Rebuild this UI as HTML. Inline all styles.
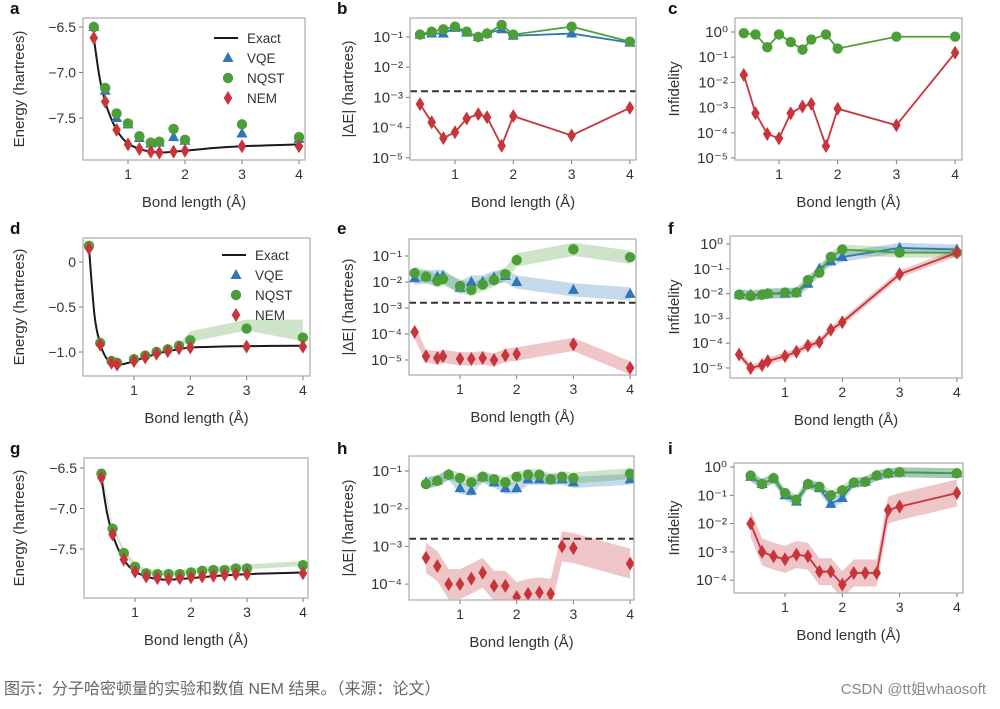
<!DOCTYPE html>
<html><head><meta charset="utf-8">
<style>
body{margin:0;background:#fff;width:1000px;height:704px;overflow:hidden;font-family:"Liberation Sans",sans-serif}
svg text{font-family:"Liberation Sans","Noto Sans CJK SC",sans-serif}
</style></head><body>
<svg id="fig" width="1000" height="704" viewBox="0 0 1000 704" xmlns="http://www.w3.org/2000/svg"></svg>
<script>
// ---------- data ----------
const xA=[0.4,0.6,0.8,1.0,1.2,1.4,1.55,1.8,2.0,3,4];
const aVQE=[-6.5,-7.2,-7.5,-7.57,-7.72,-7.78,-7.77,-7.71,-7.75,-7.67,-7.73];
const aNQST=[-6.5,-7.17,-7.45,-7.56,-7.7,-7.77,-7.76,-7.62,-7.74,-7.57,-7.71];
const aNEM=[-6.62,-7.32,-7.63,-7.79,-7.84,-7.87,-7.88,-7.87,-7.86,-7.81,-7.81];
const exactXA=[0.4,0.5,0.6,0.7,0.8,0.9,1.0,1.2,1.4,1.6,1.8,2.0,2.5,3,3.5,4];
const exactA=[-6.62,-7.05,-7.32,-7.5,-7.63,-7.72,-7.78,-7.84,-7.87,-7.88,-7.87,-7.86,-7.83,-7.81,-7.8,-7.79];
const bVQE=[0.12,0.13,0.13,0.2,0.14,0.1,0.13,0.18,0.11,0.13,0.065];
const bNQST=[0.12,0.15,0.18,0.22,0.15,0.1,0.13,0.25,0.12,0.22,0.07];
const bNEM=[6e-4,1.5e-4,4.5e-5,7e-5,2e-4,2.8e-4,2.2e-4,2.5e-5,2.4e-4,5.5e-5,4.5e-4];
const cNQST=[0.9,0.8,0.25,0.8,0.4,0.2,0.5,0.8,0.22,0.65,0.65];
const cNEM=[0.02,6e-4,9e-5,6e-5,6e-4,1.1e-3,1.4e-3,3e-5,9e-4,2e-4,0.15];
const xD=[0.2,0.4,0.6,0.7,1.0,1.2,1.4,1.6,1.8,2.0,3,4];
const dNQST=[0.18,-0.9,-1.1,-1.12,-1.08,-1.04,-1.0,-0.97,-0.93,-0.87,-0.74,-0.84];
const dNQSTBand=[0,0,0,0,0,0,0,0,0.02,0.1,0.1,0.2];
const dNEM=[0.15,-0.92,-1.12,-1.14,-1.1,-1.06,-1.02,-0.99,-0.96,-0.95,-0.94,-0.94];
const exactXD=[0.2,0.3,0.4,0.5,0.6,0.74,0.9,1.0,1.2,1.4,1.6,1.8,2.0,2.5,3,4];
const exactD=[0.16,-0.6,-0.91,-1.06,-1.12,-1.14,-1.12,-1.1,-1.06,-1.02,-0.99,-0.97,-0.95,-0.94,-0.935,-0.93];
const eVQE=[0.014,0.016,0.016,0.017,0.006,0.01,0.01,0.015,0.017,0.01,0.005,0.0035];
const eNQST=[0.022,0.016,0.011,0.013,0.007,0.005,0.008,0.012,0.02,0.07,0.18,0.09];
const eNEM=[1.2e-4,1.4e-5,1.2e-5,1.4e-5,1.1e-5,1.1e-5,1.2e-5,1e-5,1.5e-5,1.7e-5,4e-5,5e-6];
const fVQE=[0.009,0.009,0.009,0.01,0.01,0.011,0.025,0.1,0.2,0.3,0.7,0.6];
const fNQST=[0.009,0.008,0.009,0.01,0.011,0.011,0.035,0.07,0.3,0.6,0.45,0.45];
const fNEM=[3.5e-5,1e-5,1.3e-5,1.9e-5,3e-5,4.5e-5,8e-5,1.1e-4,3.5e-4,7e-4,0.06,0.45];
const xG=[0.4,0.6,0.8,1.0,1.2,1.4,1.6,1.8,2.0,2.2,2.4,2.6,2.8,3.0,4];
const gNQST=[-6.57,-7.25,-7.55,-7.72,-7.8,-7.81,-7.81,-7.81,-7.79,-7.77,-7.76,-7.76,-7.74,-7.74,-7.7];
const gNEM=[-6.62,-7.32,-7.63,-7.78,-7.84,-7.86,-7.87,-7.86,-7.85,-7.84,-7.83,-7.82,-7.81,-7.81,-7.8];
const hVQE=[0.05,0.055,0.08,0.035,0.03,0.07,0.05,0.035,0.035,0.06,0.06,0.06,0.06,0.05,0.06];
const hNQST=[0.045,0.055,0.08,0.065,0.05,0.07,0.06,0.05,0.07,0.08,0.08,0.06,0.07,0.065,0.085];
const hNEM=[5e-4,3e-4,1e-4,1e-4,1.4e-4,2e-4,9e-5,9e-5,4.5e-5,5.5e-5,6e-5,5.5e-5,1e-3,9e-4,3.5e-4];
const iVQE=[0.45,0.25,0.4,0.1,0.06,0.25,0.18,0.05,0.08,0.28,0.3,0.5,0.6,0.65,0.6];
const iNQST=[0.5,0.25,0.4,0.12,0.07,0.25,0.2,0.1,0.15,0.28,0.3,0.5,0.6,0.65,0.6];
const iNEM=[0.01,1e-3,7e-4,5.5e-4,8e-4,7e-4,2e-4,2e-4,7e-5,1.8e-4,1.8e-4,1.8e-4,0.03,0.04,0.12];
const chemAcc=1.6e-3;
const xTicks=[1,2,3,4];
const energyTicksA=[-6.5,-7.0,-7.5];
const energyTicksD=[0,-0.5,-1.0];
const logTicksB=[-1,-2,-3,-4,-5];
const logTicksC=[0,-1,-2,-3,-4,-5];
const logTicksH=[-1,-2,-3,-4];
const logTicksI=[0,-1,-2,-3,-4];

// ---------- drawing ----------
const NS='http://www.w3.org/2000/svg';
const svg=document.getElementById('fig');
const C={VQE:'#2e76b6',NQST:'#4c9f38',NEM:'#c7343a',EXACT:'#1a1a1a'};
function mk(tag,attrs,parent){const e=document.createElementNS(NS,tag);for(const k in attrs)e.setAttribute(k,attrs[k]);(parent||svg).appendChild(e);return e;}
function txt(s,x,y,o,parent){const t=mk('text',Object.assign({x:x,y:y,'font-size':14,fill:'#333'},o||{}),parent);t.textContent=s;return t;}
function fmt(v){return v===0?'0':(v<0?'\u2212'+Math.abs(v).toFixed(1):v.toFixed(1));}
const sup={'0':'\u2070','1':'\u00b9','2':'\u00b2','3':'\u00b3','4':'\u2074','5':'\u2075','-':'\u207b'};

function panel(P){
  const g=mk('g',{});
  
  
  const X=v=>P.x1+(v-1)*P.xs;
  const Y=P.log?(v=>P.y0+(P.top-Math.log10(v))*P.ys):(v=>P.y0+(P.top-v)*P.ys);
  const lt=txt(P.id,P.lx,P.ly,{'font-size':17,'font-weight':'bold',fill:'#111'},g);
  
  const clip=mk('clipPath',{id:'clip'+P.id},g);mk('rect',{x:P.bx0,y:P.by0,width:P.bx1-P.bx0,height:P.by1-P.by0},clip);
  const plot=mk('g',{'clip-path':'url(#clip'+P.id+')'},g);
  xTicks.forEach(t=>{const x=X(t);mk('line',{x1:x,x2:x,y1:P.by1,y2:P.by1+4,stroke:'#777'},g);
    const tl=txt(String(t),x,P.by1+19,{'text-anchor':'middle'},g);});
  const xt=txt('Bond length (\u00c5)',(P.bx0+P.bx1)/2,P.by1+47,{'text-anchor':'middle','font-size':15},g);
  
  P.yticks.forEach(t=>{const y=P.log?P.y0+(P.top-t)*P.ys:Y(t);mk('line',{x1:P.bx0-4,x2:P.bx0,y1:y,y2:y,stroke:'#777'},g);
    const s=P.log?'10'+String(t).split('').map(c=>sup[c]).join(''):fmt(t);
    const yl=txt(s,P.bx0-7,y+5,{'text-anchor':'end','font-size':P.log?15:14},g);});
  const cy=(P.by0+P.by1)/2;
  const yt=txt(P.ytitle,P.ytx,cy,{'text-anchor':'middle','font-size':15,transform:'rotate(-90 '+P.ytx+' '+cy+')'},g);
  
  if(P.dash){const y=Y(chemAcc);const d=mk('line',{x1:P.bx0,x2:P.bx1,y1:y,y2:y,stroke:'#333','stroke-width':2,'stroke-dasharray':'7,4'},plot);
    }
  P.series.forEach(s=>{if(!s.band)return;
    const bw=i=>Array.isArray(s.band)?s.band[i]:s.band;
    const up=s.v.map((v,i)=>X(s.x[i])+','+(P.log?Y(v*bw(i)):Y(v+bw(i))));
    const lo=s.v.map((v,i)=>X(s.x[i])+','+(P.log?Y(v/bw(i)):Y(v-bw(i)*0.2))).reverse();
    const b=mk('polygon',{points:up.concat(lo).join(' '),fill:C[s.k],opacity:0.28},plot);
    });
  if(P.exact){const pts=P.exact[0].map((x,i)=>[X(x),Y(P.exact[1][i])]);
    let d='M'+pts[0];for(let i=0;i<pts.length-1;i++){const p0=pts[Math.max(i-1,0)],p1=pts[i],p2=pts[i+1],p3=pts[Math.min(i+2,pts.length-1)];
      d+=' C'+(p1[0]+(p2[0]-p0[0])/6)+','+(p1[1]+(p2[1]-p0[1])/6)+' '+(p2[0]-(p3[0]-p1[0])/6)+','+(p2[1]-(p3[1]-p1[1])/6)+' '+p2[0]+','+p2[1];}
    const e=mk('path',{d:d,fill:'none',stroke:C.EXACT,'stroke-width':2},plot);}
  P.series.forEach(s=>{
    if(s.line){const l=mk('polyline',{points:s.v.map((v,i)=>X(s.x[i])+','+Y(v)).join(' '),fill:'none',stroke:C[s.k],'stroke-width':1.8},plot);
      }
    s.v.forEach((v,i)=>{const m=marker(s.k,X(s.x[i]),Y(v),plot);});
  });
  mk('rect',{x:P.bx0,y:P.by0,width:P.bx1-P.bx0,height:P.by1-P.by0,fill:'none',stroke:'#aaa','stroke-width':1.2},g);
  if(P.legend)legend(P.legend[0],P.legend[1],g);
}
function marker(k,x,y,p){
  if(k==='NQST')return mk('circle',{cx:x,cy:y,r:5.2,fill:C.NQST},p);
  if(k==='VQE')return mk('polygon',{points:[x,y-6,x-5.5,y+4,x+5.5,y+4].join(','),fill:C.VQE},p);
  return mk('polygon',{points:[x,y-7,x+4.3,y,x,y+7,x-4.3,y].join(','),fill:C.NEM},p);
}
function legend(x,y,g){
  const lg=mk('g',{},g);
  mk('line',{x1:x-14,x2:x+10,y1:y,y2:y,stroke:C.EXACT,'stroke-width':2},lg);
  [['Exact',null],['VQE','VQE'],['NQST','NQST'],['NEM','NEM']].forEach((r,i)=>{const yy=y+i*20;
    if(r[1])marker(r[1],x,yy,lg);const t=txt(r[0],x+19,yy+5,{'font-size':13.5},lg);
    });
}
const EN='Energy (hartrees)',DE='|\u0394E| (hartrees)',INF='Infidelity';
panel({id:'a',lx:10,ly:14,bx0:83,bx1:305,by0:18,by1:160,x1:128,xs:57,log:false,y0:27,top:-6.5,ys:91,yticks:energyTicksA,ytitle:EN,ytx:24,exact:[exactXA,exactA],legend:[228,38],
  series:[{k:'VQE',x:xA,v:aVQE},{k:'NQST',x:xA,v:aNQST},{k:'NEM',x:xA,v:aNEM}]});
panel({id:'b',lx:337,ly:14,bx0:410,bx1:636,by0:18,by1:160,x1:455,xs:58.3,log:true,y0:37,top:-1,ys:30.2,yticks:logTicksB,ytitle:DE,ytx:353,dash:true,
  series:[{k:'VQE',x:xA,v:bVQE,line:true},{k:'NQST',x:xA,v:bNQST,line:true},{k:'NEM',x:xA,v:bNEM,line:true}]});
panel({id:'c',lx:668,ly:14,bx0:735,bx1:962,by0:18,by1:160,x1:779,xs:58.7,log:true,y0:32,top:0,ys:25.2,yticks:logTicksC,ytitle:INF,ytx:679,
  series:[{k:'NQST',x:xA,v:cNQST,line:true},{k:'NEM',x:xA,v:cNEM,line:true}]});
panel({id:'d',lx:10,ly:234,bx0:83,bx1:310,by0:238,by1:376,x1:134,xs:56.3,log:false,y0:262,top:0,ys:90,yticks:energyTicksD,ytitle:EN,ytx:24,exact:[exactXD,exactD],legend:[236,255],
  series:[{k:'NQST',x:xD,v:dNQST,band:dNQSTBand},{k:'NEM',x:xD,v:dNEM}]});
panel({id:'e',lx:337,ly:234,bx0:409,bx1:636,by0:239,by1:375,x1:460,xs:56.7,log:true,y0:256,top:-1,ys:26,yticks:logTicksB,ytitle:DE,ytx:353,dash:true,
  series:[{k:'VQE',x:xD,v:eVQE,band:1.8},{k:'NQST',x:xD,v:eNQST,band:1.8},{k:'NEM',x:xD,v:eNEM,band:1.8}]});
panel({id:'f',lx:668,ly:234,bx0:730,bx1:962,by0:236,by1:378,x1:785,xs:57.3,log:true,y0:244,top:0,ys:24.8,yticks:logTicksC,ytitle:INF,ytx:679,
  series:[{k:'VQE',x:xD,v:fVQE,line:true,band:1.6},{k:'NQST',x:xD,v:fNQST,line:true,band:1.6},{k:'NEM',x:xD,v:fNEM,line:true,band:1.4}]});
panel({id:'g',lx:10,ly:454,bx0:84,bx1:308,by0:458,by1:598,x1:135,xs:56,log:false,y0:468,top:-6.5,ys:81,yticks:energyTicksA,ytitle:EN,ytx:24,exact:[exactXA,exactA],
  series:[{k:'NQST',x:xG,v:gNQST,band:0.05},{k:'NEM',x:xG,v:gNEM}]});
panel({id:'h',lx:337,ly:454,bx0:409,bx1:634,by0:456,by1:600,x1:460,xs:56.7,log:true,y0:471,top:-1,ys:37.7,yticks:logTicksH,ytitle:DE,ytx:353,dash:true,
  series:[{k:'VQE',x:xG,v:hVQE,band:1.4},{k:'NQST',x:xG,v:hNQST,band:1.4},{k:'NEM',x:xG,v:hNEM,band:2.5}]});
panel({id:'i',lx:668,ly:454,bx0:734,bx1:963,by0:463,by1:593,x1:785,xs:57.3,log:true,y0:467,top:0,ys:28.3,yticks:logTicksI,ytitle:INF,ytx:679,
  series:[{k:'VQE',x:xG,v:iVQE,line:true,band:1.5},{k:'NQST',x:xG,v:iNQST,line:true,band:1.5},{k:'NEM',x:xG,v:iNEM,line:true,band:3}]});
const cap=txt('图示：分子哈密顿量的实验和数值 NEM 结果。（来源：论文）',4,694,{'font-size':16,fill:'#666'});

const wm=txt('CSDN @tt姐whaosoft',986,694,{'font-size':15,fill:'#888','text-anchor':'end'});

</script>
</body></html>
